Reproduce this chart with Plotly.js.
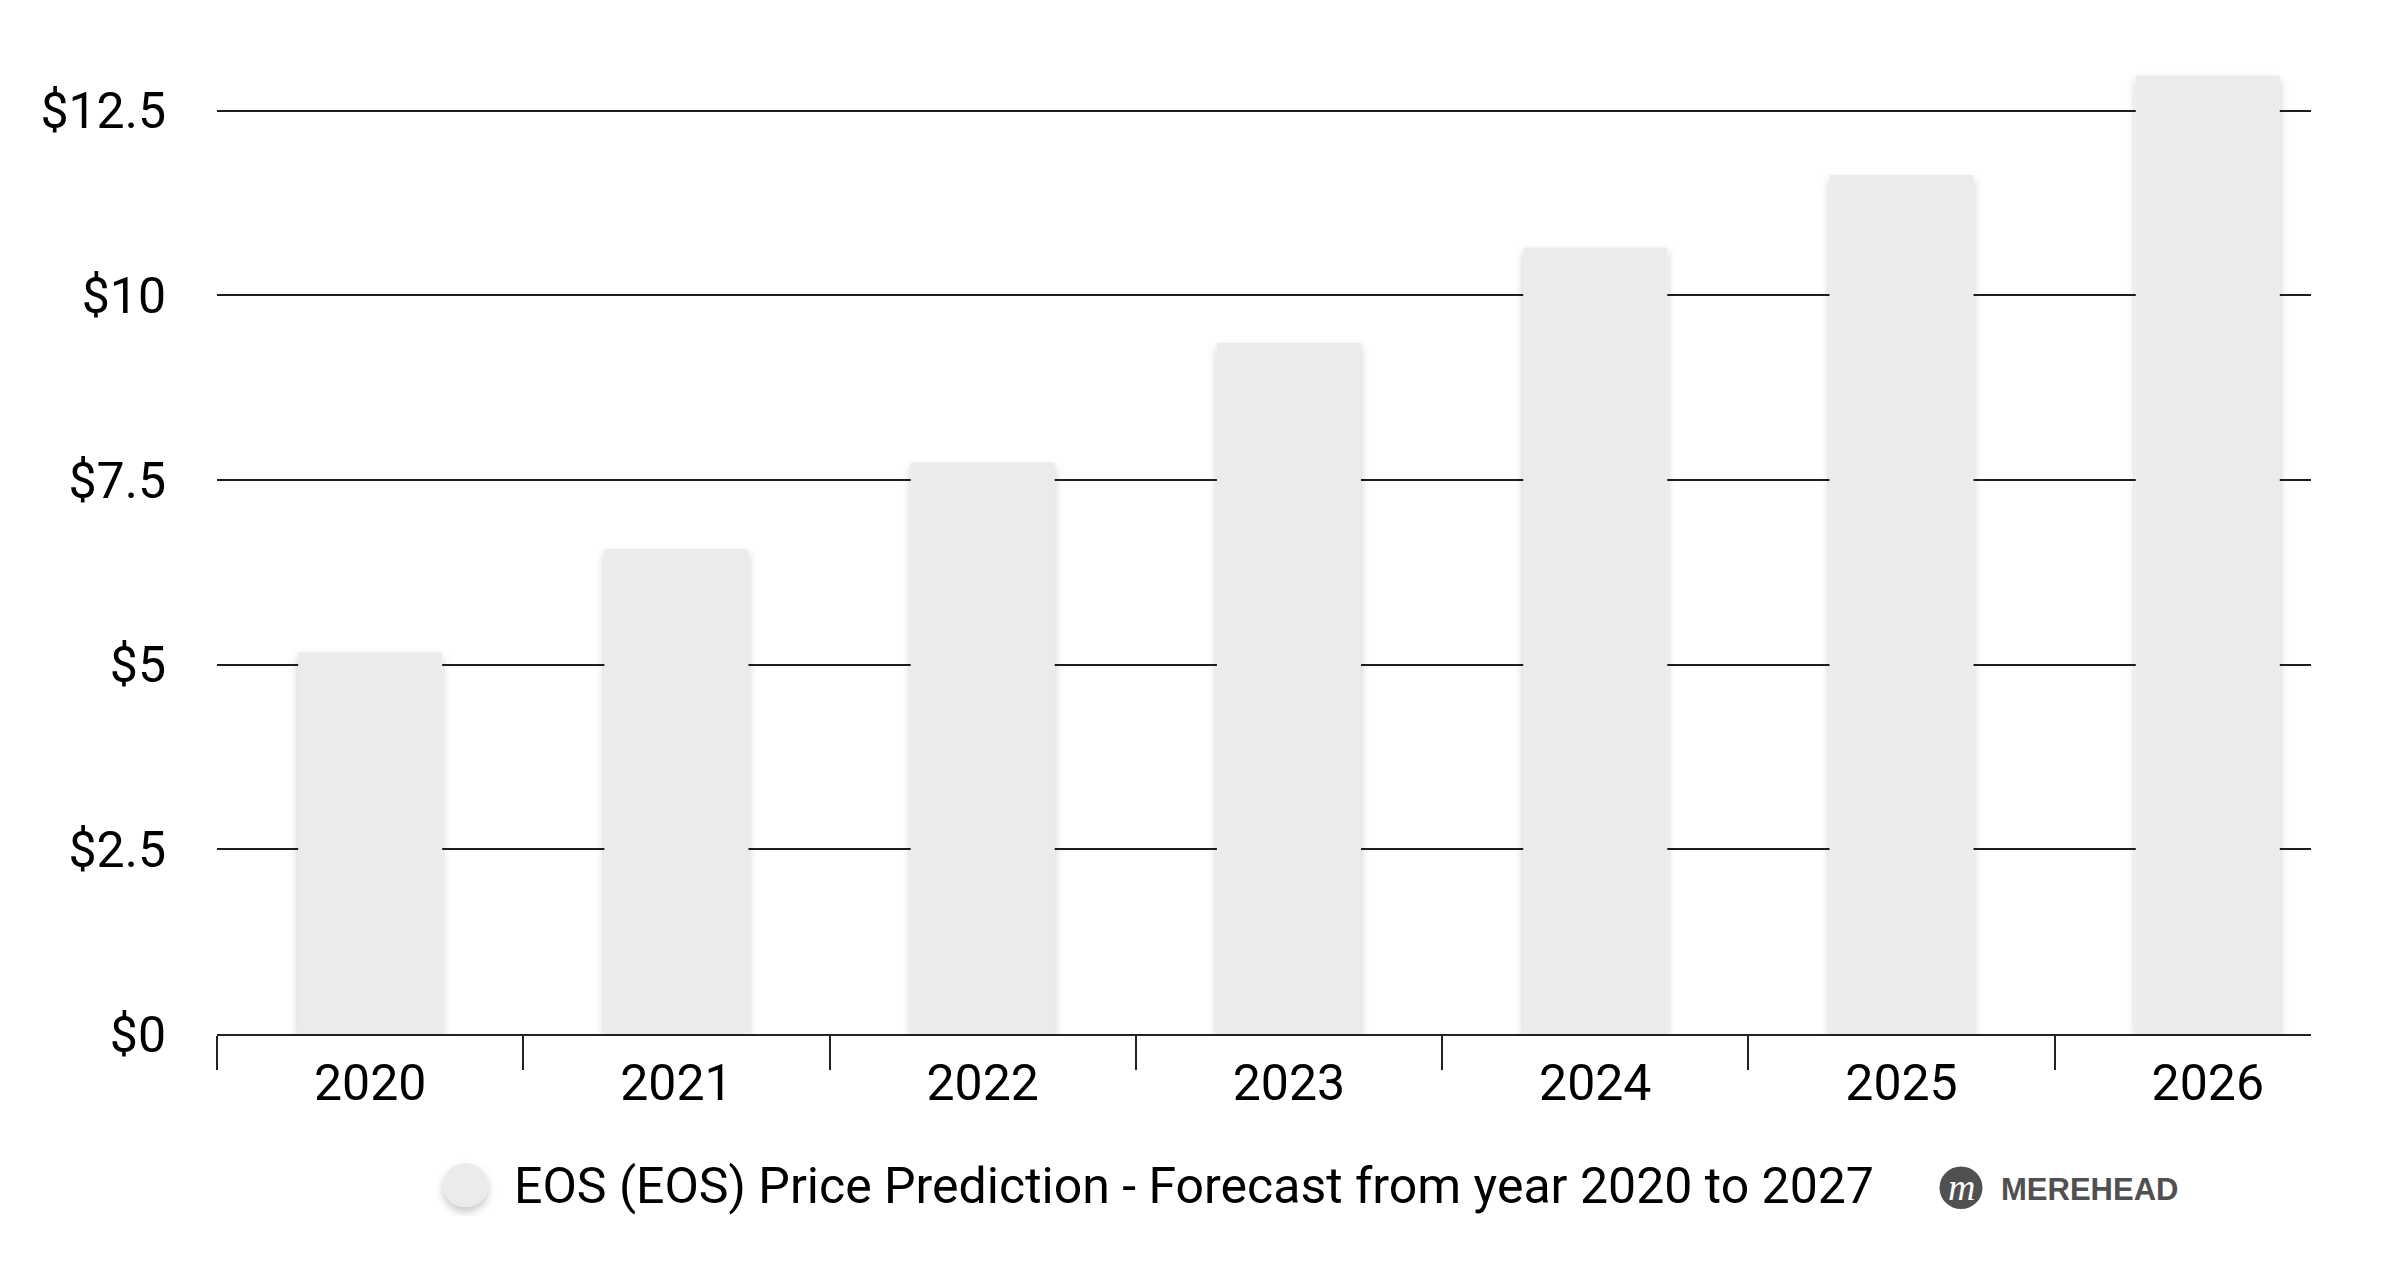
<!DOCTYPE html>
<html><head><meta charset="utf-8">
<script src="https://cdn.plot.ly/plotly-3.0.1.min.js"></script>
<style>html,body{margin:0;padding:0;background:#fff;} #chart{width:2405px;height:1269px;}</style>
</head><body><div id="chart"></div>
<script>
// ---- data ----
const years = [2020, 2021, 2022, 2023, 2024, 2025, 2026];
const prices = [5.17, 6.57, 7.74, 9.36, 10.65, 11.63, 12.98];
const yTickStep = 2.5;
const seriesName = 'EOS (EOS) Price Prediction - Forecast from year 2020 to 2027';
const brand = 'MEREHEAD';

// ---- layout geometry ----
const W = 2405, H = 1269, M = {l: 217, r: 94, t: 37, b: 235};
const PW = W - M.l - M.r, PH = H - M.t - M.b;
const px = x => (x - M.l) / PW;
const py = y => (H - M.b - y) / PH;

const trace = {
  type: 'bar', x: years, y: prices, name: seriesName, width: 0.47,
  marker: {color: '#ebebeb', line: {width: 0}},
  cliponaxis: false, showlegend: false,
  hovertemplate: '%{x}: $%{y}<extra></extra>'
};

const layout = {
  width: W, height: H, margin: M,
  paper_bgcolor: '#fff', plot_bgcolor: '#fff',
  font: {family: 'Roboto, sans-serif', color: '#000'},
  showlegend: false,
  xaxis: {
    type: 'linear', range: [years[0] - 0.5, years[0] + 6.337],
    tickmode: 'array', tickvals: years, ticktext: years.map(String),
    ticks: '', showgrid: false, zeroline: false,
    showline: true, linecolor: '#222', linewidth: 2,
    tickfont: {size: 50, color: '#000'}, ticklabelstandoff: 4,
    minor: {tickmode: 'linear', tick0: years[0] - 0.5, dtick: 1, ticks: 'outside',
            ticklen: 34, tickwidth: 2, tickcolor: '#222', showgrid: false}
  },
  yaxis: {
    range: [0, 13.5], tick0: 0, dtick: yTickStep, tickprefix: '$',
    showgrid: true, gridcolor: '#1e1e1e', gridwidth: 2,
    zeroline: false, showline: false, ticks: '',
    tickfont: {size: 50, color: '#000'}, ticklabelstandoff: 50
  },
  shapes: [
    {type: 'circle', xref: 'paper', yref: 'paper', x0: px(443), x1: px(488), y0: py(1207), y1: py(1163),
     fillcolor: '#ebebeb', line: {width: 0}},
    {type: 'circle', xref: 'paper', yref: 'paper', x0: px(1939.5), x1: px(1982.5), y0: py(1209), y1: py(1166.5),
     fillcolor: '#505050', line: {width: 0}}
  ],
  annotations: [
    {xref: 'paper', yref: 'paper', x: px(512), y: py(1186), xanchor: 'left', yanchor: 'middle',
     text: seriesName, showarrow: false, font: {family: 'Roboto, sans-serif', size: 50, color: '#000'}},
    {xref: 'paper', yref: 'paper', x: px(1961), y: py(1187), xanchor: 'center', yanchor: 'middle',
     text: 'm', showarrow: false, font: {family: 'Liberation Serif, serif', size: 38, color: '#fff', style: 'italic'}},
    {xref: 'paper', yref: 'paper', x: px(1999), y: py(1189), xanchor: 'left', yanchor: 'middle',
     text: '<b>' + brand + '</b>', showarrow: false, font: {family: 'Liberation Sans, Arial, sans-serif', size: 31, color: '#505050'}}
  ]
};

Plotly.newPlot('chart', [trace], layout, {staticPlot: true, displayModeBar: false}).then(gd => {
  const svg = gd.querySelector('svg.main-svg');
  const ns = 'http://www.w3.org/2000/svg';
  let defs = svg.querySelector('defs');
  if (!defs) { defs = document.createElementNS(ns, 'defs'); svg.insertBefore(defs, svg.firstChild); }
  const f = document.createElementNS(ns, 'filter');
  f.setAttribute('id', 'softshadow');
  f.setAttribute('x', '-30%'); f.setAttribute('y', '-10%');
  f.setAttribute('width', '160%'); f.setAttribute('height', '130%');
  const ds = document.createElementNS(ns, 'feDropShadow');
  ds.setAttribute('dx', '0'); ds.setAttribute('dy', '5');
  ds.setAttribute('stdDeviation', '4');
  ds.setAttribute('flood-color', '#000'); ds.setAttribute('flood-opacity', '0.22');
  f.appendChild(ds); defs.appendChild(f);
  gd.querySelectorAll('.barlayer .point path').forEach(p => p.setAttribute('filter', 'url(#softshadow)'));
  const shp = gd.querySelectorAll('.shapelayer path');
  if (shp.length) shp[0].setAttribute('filter', 'url(#softshadow)');
});
</script>
</body></html>
